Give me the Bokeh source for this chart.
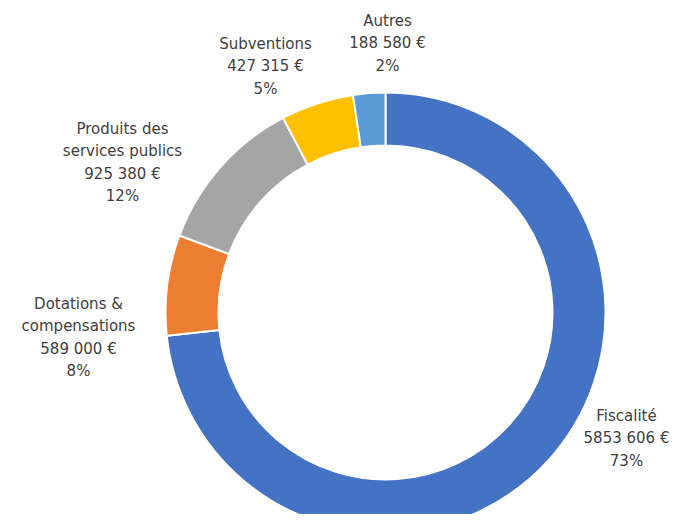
import math
from bokeh.plotting import figure
from bokeh.models import ColumnDataSource, Range1d
from bokeh.embed import file_html
from bokeh.resources import INLINE
from bokeh.core.properties import value

# ---- data ----
categories = ["Fiscalité", "Dotations & compensations", "Produits des services publics", "Subventions", "Autres"]
label_lines = [["Fiscalité"], ["Dotations &", "compensations"], ["Produits des", "services publics"], ["Subventions"], ["Autres"]]
amounts = [5853606, 589000, 925380, 427315, 188580]
amount_labels = ["5853 606 €", "589 000 €", "925 380 €", "427 315 €", "188 580 €"]
percent_labels = ["73%", "8%", "12%", "5%", "2%"]
colors = ["#4472C4", "#ED7D31", "#A5A5A5", "#FFC000", "#5B9BD5"]

# ---- layout (reference pixel coords: x from left, y from top) ----
W, H = 673, 514
REF_H = 522
cx, cy = 385, 312
r_out, r_in = 220, 167
label_anchor = [(626, 415), (78, 303), (122, 128), (265, 43), (387, 20)]  # top line centre
line_gap = 22.5

def Y(y):
    return REF_H - y

total = sum(amounts)
starts, ends = [], []
cum = 0.0
for a in amounts:
    starts.append(math.pi / 2 - 2 * math.pi * cum / total)
    cum += a
    ends.append(math.pi / 2 - 2 * math.pi * cum / total)

p = figure(width=W, height=H, output_backend="svg", toolbar_location=None,
           x_range=Range1d(0, W), y_range=Range1d(REF_H - H, REF_H),
           x_axis_type=None, y_axis_type=None, min_border=0)
p.outline_line_color = None
p.grid.visible = False
p.background_fill_color = "white"

src = ColumnDataSource(dict(x=[cx] * len(amounts), y=[Y(cy)] * len(amounts),
                            start=starts, end=ends, color=colors, name=categories))
p.annular_wedge(x="x", y="y", inner_radius=r_in, outer_radius=r_out,
                start_angle="start", end_angle="end", direction="clock",
                fill_color="color", line_color="white", line_width=2, source=src)

tx, ty, tt = [], [], []
for i in range(len(categories)):
    lines = label_lines[i] + [amount_labels[i], percent_labels[i]]
    ax, ay = label_anchor[i]
    for j, t in enumerate(lines):
        tx.append(ax)
        ty.append(Y(ay + j * line_gap))
        tt.append(t)

p.text(x=tx, y=ty, text=tt, text_align="center", text_baseline="middle",
       text_font=value("DejaVu Sans"), text_font_size="15px", text_color="#404040")

open("out.html", "w").write(file_html(p, INLINE))
